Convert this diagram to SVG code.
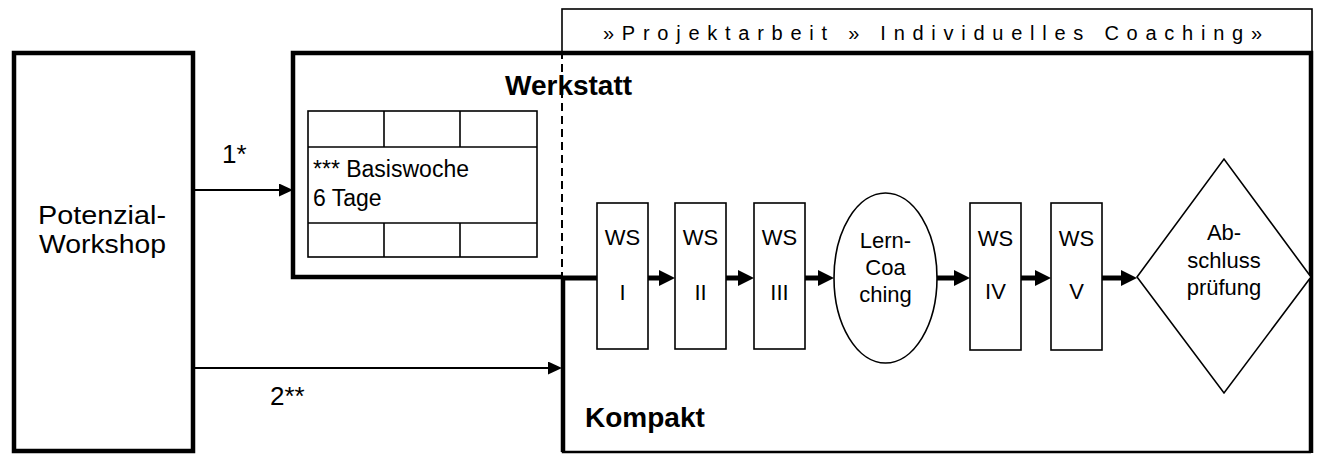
<svg xmlns="http://www.w3.org/2000/svg" width="1319" height="454" viewBox="0 0 1319 454">
<style>
text{font-family:"Liberation Sans",Arial,sans-serif;fill:#000}
.lbl{font-size:22px}
.big{font-size:26px}
.bold{font-size:28px;font-weight:bold}
.thin{fill:#fff;stroke:#000;stroke-width:1.6}
.thick{fill:none;stroke:#000;stroke-width:4.5}
.flow{fill:none;stroke:#000;stroke-width:5}
.arr{fill:none;stroke:#000;stroke-width:2}
</style>
<defs>
<marker id="ah" markerUnits="userSpaceOnUse" markerWidth="17" markerHeight="16" refX="0" refY="8" orient="auto"><path d="M0,0 L16,8 L0,16 Z" fill="#000"/></marker>
<marker id="ahs" markerUnits="userSpaceOnUse" markerWidth="15" markerHeight="14" refX="0" refY="6.5" orient="auto"><path d="M0,0 L14,6.5 L0,13 Z" fill="#000"/></marker>
</defs>
<rect width="1319" height="454" fill="#fff"/>

<g id="projektarbeit">
<rect x="562" y="9" width="750" height="43" class="thin"/>
<text x="603" y="40" font-size="20" textLength="659" lengthAdjust="spacing">»Projektarbeit » Individuelles Coaching»</text>
</g>

<g id="potenzial-workshop">
<rect x="14" y="53" width="179" height="398" class="thick" fill="#fff"/>
<text class="big" x="38" y="224" textLength="128" lengthAdjust="spacingAndGlyphs">Potenzial-</text>
<text class="big" x="39" y="253" textLength="127" lengthAdjust="spacingAndGlyphs">Workshop</text>
</g>

<g id="werkstatt">
<path d="M563,277 H293 V53 H1311 V277" class="thick"/>
<text class="bold" x="505" y="95">Werkstatt</text>
</g>

<g id="kompakt">
<path d="M563,277 V452 H1311" fill="none" stroke="#000" stroke-width="2.5"/>
<path d="M563,277 V452" class="thick"/>
<path d="M1311,277 V453" class="thick"/>
<text class="bold" x="585" y="427">Kompakt</text>
</g>

<g id="basiswoche">
<rect x="308" y="111" width="229" height="146" class="thin"/>
<line x1="308" y1="147" x2="537" y2="147" class="thin"/>
<line x1="308" y1="223" x2="537" y2="223" class="thin"/>
<line x1="384" y1="111" x2="384" y2="147" class="thin"/>
<line x1="460" y1="111" x2="460" y2="147" class="thin"/>
<line x1="384" y1="223" x2="384" y2="257" class="thin"/>
<line x1="460" y1="223" x2="460" y2="257" class="thin"/>
<text x="313" y="177" font-size="23">*** Basiswoche</text>
<text x="313" y="206" font-size="23">6 Tage</text>
</g>

<g id="connectors">
<line x1="562" y1="51" x2="562" y2="276" stroke="#000" stroke-width="2" stroke-dasharray="8,5"/>
<line x1="195" y1="190" x2="279" y2="190" class="arr" marker-end="url(#ahs)"/>
<line x1="195" y1="368" x2="548" y2="368" class="arr" marker-end="url(#ahs)"/>
<line x1="561" y1="278" x2="597" y2="278" class="flow"/>
<line x1="648" y1="278" x2="659" y2="278" class="flow" marker-end="url(#ah)"/>
<line x1="726" y1="278" x2="738" y2="278" class="flow" marker-end="url(#ah)"/>
<line x1="805" y1="278" x2="818" y2="278" class="flow" marker-end="url(#ah)"/>
<line x1="937" y1="278" x2="954" y2="278" class="flow" marker-end="url(#ah)"/>
<line x1="1021" y1="278" x2="1035" y2="278" class="flow" marker-end="url(#ah)"/>
<line x1="1102" y1="278" x2="1121" y2="278" class="flow" marker-end="url(#ah)"/>
</g>

<g id="label-1"><text x="222" y="163" font-size="26">1*</text></g>
<g id="label-2"><text x="270" y="405" font-size="26">2**</text></g>

<g id="ws1">
<rect x="597" y="203" width="51" height="146" class="thin"/>
<text class="lbl" x="622.5" y="245" text-anchor="middle">WS</text>
<text class="lbl" x="622.5" y="300" text-anchor="middle">I</text>
</g>
<g id="ws2">
<rect x="675" y="203" width="51" height="146" class="thin"/>
<text class="lbl" x="700.5" y="245" text-anchor="middle">WS</text>
<text class="lbl" x="700.5" y="300" text-anchor="middle">II</text>
</g>
<g id="ws3">
<rect x="754" y="203" width="51" height="146" class="thin"/>
<text class="lbl" x="779.5" y="245" text-anchor="middle">WS</text>
<text class="lbl" x="779.5" y="300" text-anchor="middle">III</text>
</g>
<g id="lerncoaching">
<ellipse cx="885.5" cy="278" rx="51.5" ry="85" class="thin"/>
<text class="lbl" x="885.5" y="248" text-anchor="middle">Lern-</text>
<text class="lbl" x="885.5" y="275" text-anchor="middle">Coa</text>
<text class="lbl" x="885.5" y="302" text-anchor="middle">ching</text>
</g>
<g id="ws4">
<rect x="970" y="203" width="51" height="147" class="thin"/>
<text class="lbl" x="995.5" y="246" text-anchor="middle">WS</text>
<text class="lbl" x="995.5" y="299" text-anchor="middle">IV</text>
</g>
<g id="ws5">
<rect x="1051" y="203" width="51" height="147" class="thin"/>
<text class="lbl" x="1076.5" y="246" text-anchor="middle">WS</text>
<text class="lbl" x="1076.5" y="299" text-anchor="middle">V</text>
</g>
<g id="abschluss">
<polygon points="1137,277 1224,159 1311,277 1224,393" class="thin"/>
<text class="lbl" x="1224" y="240" text-anchor="middle">Ab-</text>
<text class="lbl" x="1224" y="268" text-anchor="middle">schluss</text>
<text class="lbl" x="1224" y="295" text-anchor="middle">prüfung</text>
</g>
</svg>
